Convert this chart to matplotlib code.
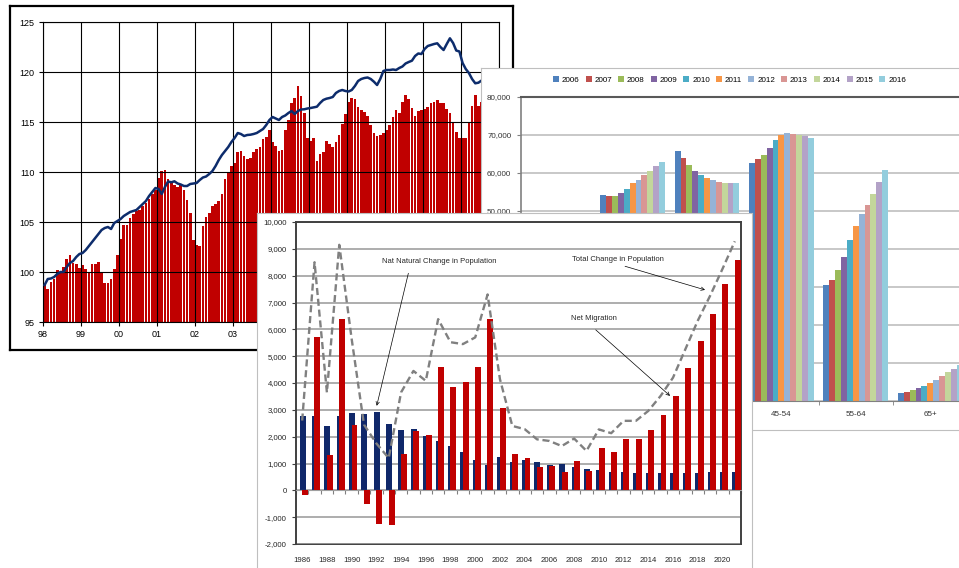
import numpy as np
import matplotlib
matplotlib.use('Agg')
import matplotlib.pyplot as plt

W, H = 959, 568
plt.rcParams['font.family'] = ['Liberation Sans', 'DejaVu Sans']

# ---- chart 1: monthly index, Jan 1998 onwards
index_bars = [
    98.7, 98.3, 99.0, 99.3, 100.2, 99.9, 100.5, 101.3, 101.7, 100.9, 100.8, 100.4,
    100.7, 100.3, 100.0, 100.8, 100.8, 101.0, 99.9, 98.9, 98.9, 99.3, 100.3, 101.7,
    103.3, 104.7, 104.7, 105.4, 105.8, 106.1, 106.2, 106.6, 106.9, 107.3, 107.8, 108.2,
    109.4, 110.1, 110.2, 109.3, 109.0, 108.7, 108.5, 108.7, 108.2, 107.2, 105.9, 103.2,
    102.7, 102.6, 104.6, 105.5, 105.9, 106.6, 106.8, 107.1, 107.8, 109.3, 110.0, 110.6,
    110.9, 112.0, 112.1, 111.6, 111.3, 111.4, 112.0, 112.3, 112.5, 113.3, 113.5, 114.2,
    113.0, 112.6, 112.1, 112.2, 114.2, 115.2, 116.9, 117.4, 118.6, 117.6, 115.9, 113.4,
    113.1, 113.4, 111.1, 111.8, 112.0, 113.1, 112.8, 112.5, 113.0, 113.7, 114.8, 115.8,
    117.0, 117.4, 117.3, 116.5, 116.2, 116.0, 115.6, 114.7, 113.9, 113.6, 113.7, 113.9,
    114.2, 114.7, 115.5, 116.2, 115.9, 117.0, 117.7, 117.3, 116.4, 115.6, 116.1, 116.2,
    116.3, 116.5, 116.9, 117.0, 117.2, 116.9, 116.9, 116.3, 115.9, 115.0, 114.0, 113.4,
    113.4, 113.4, 115.0, 116.6, 117.7, 116.6, 117.0]
index_line = [
    98.7, 99.3, 99.35, 99.5, 99.8, 100.0, 100.0, 100.5, 100.9, 101.1, 101.5, 101.8,
    101.9, 102.2, 102.6, 103.0, 103.4, 103.8, 104.2, 104.4, 104.5, 104.3, 104.9, 105.1,
    105.3, 105.6, 105.8, 106.0, 106.1, 106.2, 106.5, 106.8, 107.1, 107.6, 108.0, 108.4,
    108.3, 107.8, 108.5, 109.05, 108.97, 109.07, 108.85, 108.75, 108.6, 108.6, 108.8, 108.85,
    108.9, 109.2, 109.45, 109.55, 109.8, 110.1, 110.6, 111.2, 111.7, 112.1, 112.5, 113.0,
    113.4, 113.9, 113.8, 113.6, 113.7, 113.73, 113.8, 113.9, 114.1, 114.3, 114.7, 115.2,
    115.5, 115.35, 115.2, 115.5, 115.65, 115.9, 116.1, 115.8, 116.1, 116.25, 116.27, 116.35,
    116.4, 116.47, 116.53, 116.9, 117.2, 117.33, 117.4, 117.5, 117.9, 118.1, 118.2, 118.1,
    118.05, 118.2, 118.6, 119.1, 119.3, 119.4, 119.45, 119.3, 119.03, 118.7, 119.3, 120.1,
    120.2, 120.2, 120.25, 120.2, 120.4, 120.55, 120.85, 121.0, 121.13, 121.6, 121.85, 121.8,
    122.3, 122.6, 122.7, 122.8, 122.87, 122.5, 122.2, 122.8, 123.37, 122.9, 122.15, 122.05,
    120.9, 120.3, 119.9, 119.3, 118.87, 118.93, 119.15]
year_labels = ['98', '99', '00', '01', '02', '03', '04', '05', '06', '07', '08', '09', '10']

# ---- chart 2: population by age group, 2006-2016
age_groups = ['15-24', '25-34', '35-44', '45-54', '55-64', '65+']
legend_years = ['2006', '2007', '2008', '2009', '2010', '2011', '2012', '2013', '2014', '2015', '2016']
age_15_24 = [46500, 46800, 47100, 47000, 46800, 46700, 46900, 47300, 47800, 48200, 48600]
age_25_34 = [54200, 53900, 54000, 54700, 55800, 57300, 58200, 59400, 60500, 61800, 62900]
age_35_44 = [65700, 63900, 62000, 60500, 59400, 58700, 58100, 57600, 57300, 57300, 57500]
age_45_54 = [62600, 63700, 64700, 66600, 68700, 70000, 70500, 70300, 70000, 69700, 69200]
age_55_64 = [30600, 31800, 34500, 37900, 42400, 46000, 49100, 51700, 54500, 57600, 60800]
age_65_up = [2000, 2400, 2800, 3300, 3900, 4700, 5500, 6600, 7600, 8500, 9500]
year_colors = ['#4F81BD', '#C0504D', '#9BBB59', '#8064A2', '#4BACC6', '#F79646',
               '#95B3D7', '#D99694', '#C3D69B', '#B3A2C7', '#93CDDD']

# ---- chart 3: population change 1986-2021
pop_years = list(range(1986, 2022))
natural_change = [2760, 2760, 2380, 2780, 2900, 2830, 2920, 2480, 2260, 2270,
                  2040, 1830, 1670, 1420, 1120, 960, 1230, 1060, 1120, 1045,
                  930, 970, 880, 800, 750, 700, 670, 650, 650, 630,
                  630, 650, 660, 670, 680, 700]
net_migration = [-180, 5730, 1330, 6400, 2430, -520, -1250, -1290, 1370, 2200,
                 2080, 4590, 3840, 4040, 4590, 6390, 3080, 1370, 1190, 870,
                 920, 670, 1100, 720, 1570, 1420, 1930, 1930, 2240, 2790,
                 3530, 4570, 5560, 6590, 7680, 8580]
total_change = [2600, 8500, 3650, 9150, 5650, 2450, 1750, 1200, 3650, 4450,
                4080, 6380, 5520, 5450, 5700, 7300, 4140, 2400, 2280, 1900,
                1840, 1650, 1930, 1470, 2270, 2130, 2590, 2590, 2960, 3520,
                4200, 5260, 6320, 7250, 8250, 9280]


def box(l, t, r, b):
    # pixel box -> figure fraction
    return [l / W, 1 - b / H, (r - l) / W, (b - t) / H]


def panel(rect, z, edge, lw):
    p = fig.add_axes(box(*rect), zorder=z)
    p.set_xticks([])
    p.set_yticks([])
    p.set_facecolor('white')
    for s in p.spines.values():
        s.set_color(edge)
        s.set_linewidth(lw)
    return p


fig = plt.figure(figsize=(W / 100, H / 100), dpi=100)

# chart 1 (back)
panel((10, 6, 513, 350), 1, 'black', 1.6)
ax1 = fig.add_axes(box(43, 22, 499, 322), zorder=2)
months = np.arange(len(index_bars)) + 0.5
ax1.bar(months, index_bars, width=0.82, color='#C00000', zorder=1)
ax1.plot(months, index_line, color='#0D2C6C', lw=1.8, zorder=3)
ax1.set_xlim(0, 144)
ax1.set_ylim(95, 125)
ax1.set_xticks(np.arange(0, 145, 12), labels=year_labels)
# labels from 04 on sit under the front chart
for lab in ax1.get_xticklabels()[6:]:
    lab.set_visible(False)
ax1.set_yticks(np.arange(95, 126, 5))
ax1.grid(True, color='black', lw=0.8, zorder=2)
ax1.set_axisbelow(False)
ax1.tick_params(length=3, pad=3, labelsize=6.5, color='black')
for s in ax1.spines.values():
    s.set_color('black')
    s.set_linewidth(0.8)

# chart 2 (middle)
panel((481, 68, 1000, 430), 3, '#BFBFBF', 0.8)
ax2 = fig.add_axes(box(521, 97, 521 + 6 * 74.4, 401), zorder=4)
gx = np.arange(len(age_groups))
groups = [age_15_24, age_25_34, age_35_44, age_45_54, age_55_64, age_65_up]
bw = 0.079
for k, yr in enumerate(legend_years):
    vals = [g[k] for g in groups]
    ax2.bar(gx + (k - 5) * bw, vals, bw, color=year_colors[k], label=yr, zorder=2)
ax2.set_xlim(-0.5, len(age_groups) - 0.5)
ax2.set_ylim(0, 80000)
ax2.set_yticks(np.arange(0, 80001, 10000),
               labels=[f'{v:,}' for v in range(0, 80001, 10000)])
ax2.set_xticks(gx, labels=age_groups)
ax2.set_xticks(np.arange(-0.5, len(age_groups), 1), minor=True)
ax2.tick_params(axis='x', which='major', length=0, pad=7, labelsize=5.8, labelcolor='#333333')
ax2.tick_params(axis='x', which='minor', length=3, color='#808080')
ax2.tick_params(axis='y', length=3, pad=4, labelsize=5.8, color='#808080', labelcolor='#333333')
ax2.yaxis.grid(True, color='#BFBFBF', lw=1.2)
ax2.set_axisbelow(True)
ax2.spines['top'].set_color('#595959')
ax2.spines['top'].set_linewidth(1.5)
ax2.spines['left'].set_color('#808080')
ax2.spines['left'].set_linewidth(1.2)
ax2.spines['bottom'].set_color('#808080')
ax2.spines['right'].set_visible(False)
ax2.legend(loc='center', bbox_to_anchor=(729.5 / W, 1 - 80 / H), bbox_transform=fig.transFigure,
           ncol=11, frameon=False, fontsize=5.8, handlelength=0.75, handleheight=0.75,
           handletextpad=0.35, columnspacing=0.75, borderaxespad=0, borderpad=0)

# chart 3 (front)
panel((257, 213, 752, 620), 5, '#BFBFBF', 0.8)
ax3 = fig.add_axes(box(296, 222, 741, 544), zorder=6)
cx = np.arange(len(pop_years))
ax3.bar(cx + 0.03, natural_change, 0.48, color='#10286A', zorder=2)
ax3.bar(cx + 0.23, net_migration, 0.48, color='#C00000', zorder=3)
ax3.plot(cx, total_change, color='#808080', lw=1.7, dashes=(3, 1.6), zorder=4)
ax3.set_xlim(-0.5, len(pop_years) - 0.5)
ax3.set_ylim(-2000, 10000)
ax3.set_yticks(np.arange(-2000, 10001, 1000),
               labels=[f'{v:,}' for v in range(-2000, 10001, 1000)])
ax3.yaxis.grid(True, color='#A0A0A0', lw=1.2)
ax3.set_axisbelow(True)
ax3.tick_params(axis='y', length=3, pad=3.5, labelsize=5.6, color='#404040', labelcolor='#262626')
ax3.spines['bottom'].set_position(('data', 0))
ax3.spines['bottom'].set_color('#A0A0A0')
ax3.set_xticks(np.arange(-0.5, len(pop_years), 1), labels=[])
ax3.tick_params(axis='x', length=3, color='#808080')
for side in ['left', 'top', 'right']:
    ax3.spines[side].set_color('#404040')
    ax3.spines[side].set_linewidth(1.4)
sec = ax3.secondary_xaxis('bottom')
sec.set_xticks(cx[::2], labels=[str(y) for y in pop_years[::2]])
sec.tick_params(length=0, pad=9, labelsize=5.6, labelcolor='#262626')
sec.spines['bottom'].set_color('#404040')
sec.spines['bottom'].set_linewidth(1.4)

arrow = dict(arrowstyle='->', color='black', lw=0.5, shrinkA=0, shrinkB=0, mutation_scale=6)
ax3.text(11.07, 8510, 'Nat Natural Change in Population', ha='center', va='center',
         fontsize=5.5, color='#262626')
ax3.annotate('', xy=(6.03, 3150), xytext=(8.59, 8090), arrowprops=arrow)
ax3.text(25.55, 8610, 'Total Change in Population', ha='center', va='center',
         fontsize=5.5, color='#262626')
ax3.annotate('', xy=(32.59, 7470), xytext=(26.12, 8350), arrowprops=arrow)
ax3.text(23.57, 6410, 'Net Migration', ha='center', va='center', fontsize=5.5, color='#262626')
ax3.annotate('', xy=(29.76, 3520), xytext=(23.75, 5980), arrowprops=arrow)

fig.savefig('out.png', dpi=100)
